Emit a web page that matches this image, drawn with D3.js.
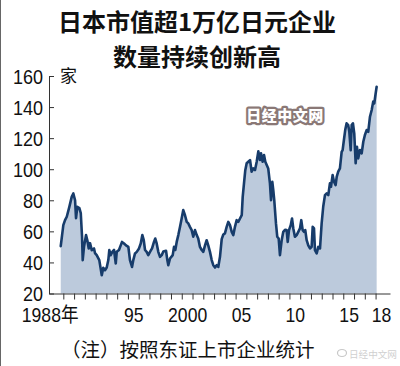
<!DOCTYPE html>
<html><head><meta charset="utf-8">
<script src="https://cdn.jsdelivr.net/npm/d3@7/dist/d3.min.js"></script>
<style>body{margin:0;background:#fff}svg{display:block}</style>
</head><body>
<script>
const titleLines = ["日本市值超1万亿日元企业", "数量持续创新高"];
const unitLabel = "家";
const noteText = "（注）按照东证上市企业统计";
const badgeText = "日经中文网";
const yTicks = [20, 40, 60, 80, 100, 120, 140, 160];
const xTickYears = d3.range(1989, 2019);
const xLabelYears = [1988, 1995, 2000, 2005, 2010, 2015, 2018];
const xLabelText = ["1988年", "95", "2000", "05", "10", "15", "18"];

const years = [1988.76,1989.00,1989.16,1989.32,1989.56,1989.78,1989.93,1990.09,1990.18,1990.30,1990.49,1990.62,1990.74,1990.80,1990.92,1991.11,1991.23,1991.36,1991.48,1991.64,1991.85,1991.94,1992.10,1992.34,1992.57,1992.71,1992.87,1993.03,1993.18,1993.27,1993.40,1993.55,1993.71,1993.87,1993.96,1994.17,1994.33,1994.45,1994.64,1994.82,1995.04,1995.19,1995.38,1995.50,1995.66,1995.82,1996.03,1996.19,1996.34,1996.47,1996.59,1996.74,1996.89,1997.05,1997.24,1997.42,1997.54,1997.67,1997.82,1997.98,1998.14,1998.29,1998.54,1998.66,1998.75,1998.91,1999.16,1999.28,1999.40,1999.53,1999.68,1999.84,1999.99,2000.14,2000.30,2000.46,2000.61,2000.76,2000.92,2001.07,2001.23,2001.39,2001.53,2001.69,2001.85,2002.00,2002.16,2002.31,2002.46,2002.62,2002.78,2002.93,2003.09,2003.24,2003.39,2003.55,2003.71,2003.86,2004.01,2004.17,2004.32,2004.48,2004.64,2004.79,2004.94,2005.10,2005.25,2005.41,2005.57,2005.66,2005.78,2005.90,2006.03,2006.18,2006.34,2006.49,2006.64,2006.80,2006.96,2007.11,2007.26,2007.36,2007.51,2007.64,2007.76,2007.89,2008.03,2008.19,2008.29,2008.41,2008.50,2008.59,2008.75,2008.87,2009.00,2009.12,2009.28,2009.43,2009.59,2009.74,2009.84,2009.96,2010.12,2010.24,2010.36,2010.51,2010.67,2010.82,2010.98,2011.10,2011.23,2011.35,2011.47,2011.60,2011.75,2011.91,2012.06,2012.16,2012.28,2012.37,2012.53,2012.68,2012.84,2012.99,2013.14,2013.30,2013.46,2013.61,2013.76,2013.86,2014.01,2014.14,2014.29,2014.39,2014.53,2014.69,2014.85,2014.94,2015.06,2015.18,2015.31,2015.46,2015.56,2015.69,2015.78,2015.90,2016.02,2016.15,2016.27,2016.39,2016.55,2016.71,2016.86,2017.01,2017.17,2017.32,2017.48,2017.64,2017.78,2017.88,2018.01,2018.10];
const counts = [50.5,64,67.2,69.4,75.8,82.2,84.4,80,68.5,75.8,75,71.7,56.5,41.5,50,57.6,54.3,49,52.4,47.9,49,46,44.7,41.5,31.8,36.5,35,36.7,41.5,48,44.7,46.8,48,39.3,46.8,48,51,53.2,52.2,51,50,41.5,37.1,41.5,45.8,46.8,49,52.2,57.6,54.3,48,46.8,44.7,46.8,49,53.2,55.4,52.2,46.8,43.6,44.7,47,47.5,41.5,38.2,42.5,44.7,50,48,53.2,57.6,62.9,68.3,73.7,70.4,66.1,65.1,62.9,60.8,56.5,60.8,57.6,55.4,50,48,46.8,51,54.3,51,46.8,41.5,38.2,36.7,38.2,37.1,43.6,55,58,58.7,62.9,66.1,64,59.7,57.6,62.9,67.2,66.1,68.3,70.4,82.2,90.9,99.4,103.8,104.8,105.9,98.4,100.5,99.4,104.8,111.5,105.9,110.2,104.8,109.1,104.8,102.7,100.5,90.9,80.1,91.9,86.6,80.1,65.1,56.5,55.4,44.7,54.3,59.7,61,60.8,53.2,60.8,64,68.3,61.9,56.5,57.6,59.7,61.9,67.2,60.8,59.7,60.8,54.3,51,49,50,62.9,61.9,47.9,45.8,50,49,65,76,83.3,84.4,83.3,90.9,88.7,96.2,91.9,89.8,95.1,98.4,100.5,111.2,112.3,118.8,125.2,129.5,128.4,124.1,112.3,128.4,129.5,123.1,103.8,114.5,107,112.3,110.2,117.7,122,125.2,124.1,133.8,138.1,143.5,142.4,148.9,153.1];

const W = 400, H = 366;
const data = years.map((t, i) => ({t, v: counts[i]}));

const svg = d3.select("body").append("svg").attr("width", W).attr("height", H);
svg.append("rect").attr("width", W).attr("height", H).attr("fill", "#fff");
svg.append("line").attr("x1", 0.5).attr("x2", 0.5).attr("y1", 0).attr("y2", H)
  .attr("stroke", "#666").attr("stroke-width", 1);

const x = d3.scaleLinear().domain([1987.67, 2019.34]).range([49, 390]);
const y = d3.scaleLinear().domain([20, 160]).range([293.5, 76]);

// title
svg.append("g").selectAll("text").data(titleLines).join("text")
  .attr("x", 197).attr("y", (d, i) => i === 0 ? 31 : 66)
  .attr("text-anchor", "middle")
  .attr("font-family", "'Noto Sans CJK SC', sans-serif")
  .attr("font-weight", "bold").attr("font-size", 24).attr("fill", "#111")
  .text(d => d);

// area + line
svg.append("path").datum(data)
  .attr("d", d3.area().x(d => x(d.t)).y0(y(20)).y1(d => y(d.v)))
  .attr("fill", "#bccadc");
svg.append("path").datum(data)
  .attr("d", d3.line().x(d => x(d.t)).y(d => y(d.v)))
  .attr("fill", "none").attr("stroke", "#173c6b").attr("stroke-width", 2.6)
  .attr("stroke-linejoin", "round").attr("stroke-linecap", "round");

// y axis
const yAxis = svg.append("g").attr("transform", "translate(49,0)")
  .call(d3.axisLeft(y).tickValues(yTicks).tickSize(-5).tickSizeOuter(0).tickPadding(6));
yAxis.select(".domain").attr("stroke", "#333");
yAxis.selectAll(".tick line").attr("stroke", "#333");
yAxis.selectAll(".tick text")
  .attr("font-family", "'Liberation Sans', Arial, sans-serif")
  .attr("font-size", 20).attr("fill", "#111")
  .attr("x", -6 / 0.9).attr("dy", "0.35em")
  .attr("transform", "scale(0.9,1)");

// x axis ticks
const xAxis = svg.append("g").attr("transform", `translate(0,${y(20)})`)
  .call(d3.axisBottom(x).tickValues(xTickYears).tickSize(6).tickSizeOuter(0).tickFormat(""));
xAxis.select(".domain").attr("stroke", "#333");
xAxis.selectAll(".tick line").attr("stroke", "#333");

// x labels centered mid-year
const xLab = svg.append("g").attr("transform", `translate(0,${y(20)})`)
  .call(d3.axisBottom(x).tickValues(xLabelYears.map(v => v + 0.5)).tickSize(0)
    .tickFormat((d, i) => xLabelText[i]));
xLab.select(".domain").remove();
xLab.selectAll(".tick text")
  .attr("font-family", "'Liberation Sans', Arial, 'Noto Sans CJK SC', sans-serif")
  .attr("font-size", 20).attr("fill", "#111")
  .attr("y", 28.8).attr("dy", 0)
  .attr("transform", "scale(0.88,1)")
  .filter((d, i) => i === 0)
  .attr("text-anchor", "end").attr("x", (78 - x(1988.5)) / 0.88);

// unit
svg.append("text").attr("x", 60).attr("y", 82)
  .attr("font-family", "'Noto Sans CJK SC', sans-serif").attr("font-size", 17)
  .attr("fill", "#111").text(unitLabel);

// badge watermark
svg.append("text").attr("x", 285).attr("y", 121).attr("text-anchor", "middle")
  .attr("font-family", "'Noto Sans CJK SC', sans-serif").attr("font-weight", "900")
  .attr("font-size", 15).attr("fill", "#fff").attr("stroke", "#8a7876")
  .attr("stroke-width", 4.5).attr("stroke-linejoin", "round").attr("paint-order", "stroke")
  .attr("letter-spacing", 0.5).text(badgeText);

// note
svg.append("text").attr("x", 61).attr("y", 356.5)
  .attr("font-family", "'Noto Sans CJK SC', sans-serif").attr("font-size", 19.5)
  .attr("fill", "#111").text(noteText);

// bottom-right watermark
svg.append("ellipse").attr("cx", 342).attr("cy", 353).attr("rx", 4.5).attr("ry", 3.5)
  .attr("fill", "none").attr("stroke", "#c8c8c8").attr("stroke-width", 1.2);
svg.append("text").attr("x", 349).attr("y", 357.5)
  .attr("font-family", "'Noto Sans CJK SC', sans-serif").attr("font-size", 9.6)
  .attr("fill", "#d0d0d0").text(badgeText);
</script>
</body></html>
